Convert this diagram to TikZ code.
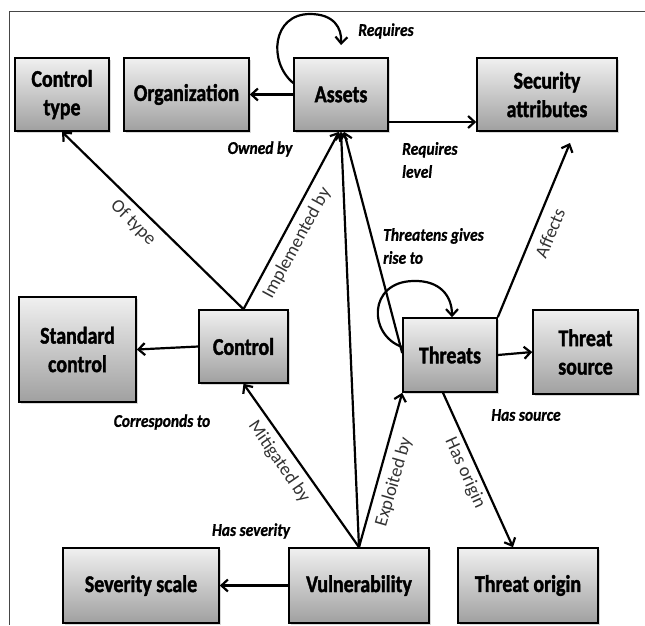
\documentclass[tikz,border=0pt]{standalone}
\usepackage{fontspec}
\newfontfamily\boxfont[FakeStretch=0.83, BoldFeatures={FakeBold=1.5}, BoldItalicFeatures={FakeBold=0.8}]{Carlito}
\newfontfamily\labfont[FakeStretch=0.86, BoldItalicFeatures={FakeBold=0.8}]{Carlito}
\newfontfamily\rfont{Carlito}
\usetikzlibrary{arrows.meta,shadows,calc}
\definecolor{boxtop}{RGB}{240,240,240}
\definecolor{boxbot}{RGB}{160,160,160}
\definecolor{framecol}{RGB}{70,70,70}
\definecolor{rlabcol}{RGB}{50,50,50}
\begin{document}
\begin{tikzpicture}[x=1pt,y=-1pt,
 box/.style={draw=black, line width=1.6pt, top color=boxtop, bottom color=boxbot, inner sep=0pt, align=center,
   font=\boxfont\bfseries\fontsize{24}{28.5}\selectfont,
   drop shadow={shadow xshift=1.5pt,shadow yshift=-1.5pt,opacity=0.3}},
 arr/.style={line width=2.2pt,-{Straight Barb[length=6.5pt,width=12pt]}},
 lab/.style={font=\labfont\bfseries\itshape\fontsize{18}{23}\selectfont, inner sep=0pt},
 rlab/.style={font=\rfont\fontsize{18.5}{21}\selectfont, text=rlabcol, inner sep=0pt}]
\useasboundingbox (0,0) rectangle (645,625);
\draw[framecol, line width=1pt] (645,11) -- (9,11) -- (9,625);
% boxes
\node[box, minimum width=94pt, minimum height=73pt] (ctype) at (62,94.5) {Control\\type};
\node[box, minimum width=125pt, minimum height=73pt] (org) at (186.5,94.5) {Organization};
\node[box, minimum width=94pt, minimum height=73pt] (assets) at (341,94.5) {Assets};
\node[box, minimum width=140pt, minimum height=73pt] (secattr) at (547,94.5) {Security\\attributes};
\node[box, minimum width=117pt, minimum height=105pt] (stdctrl) at (77.5,349.5) {Standard\\control};
\node[box, minimum width=89pt, minimum height=73pt] (control) at (243.5,346.5) {Control};
\node[box, minimum width=94pt, minimum height=74pt] (threats) at (450,355) {Threats};
\node[box, minimum width=105pt, minimum height=84pt] (tsource) at (585.5,352) {Threat\\source};
\node[box, minimum width=156pt, minimum height=75pt] (sevscale) at (141,585.5) {Severity scale};
\node[box, minimum width=140pt, minimum height=75pt] (vuln) at (359,585.5) {Vulnerability};
\node[box, minimum width=140pt, minimum height=75pt] (torigin) at (528,585.5) {Threat origin};
% connectors
\coordinate (reqtip) at (341,45);
\coordinate (afftip) at (570,143);
\draw[arr] (assets.west |- 0,83) .. controls (268,62) and (272,14) .. (310,14) .. controls (334,14) and (342,28) .. (reqtip);
\draw[arr] (assets.west) -- (org.east);
\draw[arr] (assets.east |- 0,122) -- (secattr.west |- 0,122);
\draw[arr] (control.north) -- (ctype.south);
\draw[arr] (control.north) -- ([xshift=-2pt]assets.south);
\draw[arr] (vuln.north) -- (assets.south);
\draw[arr] (threats.west |- 0,353) -- ([xshift=3pt]assets.south);
\draw[arr] (threats.west |- 0,347) .. controls (368,335) and (368,282) .. (413,281) .. controls (440,280) and (452,296) .. ([xshift=2pt]threats.north);
\draw[arr] (threats.north east) -- (afftip);
\draw[arr] (threats.east) -- (tsource.west);
\draw[arr] (control.west) -- (stdctrl.east);
\draw[arr] (vuln.north) -- (control.south);
\draw[arr] (vuln.north) -- (threats.south west);
\draw[arr] ([xshift=-7pt]threats.south) -- ([xshift=-15pt]torigin.north);
\draw[arr] (vuln.west) -- (sevscale.east);
% labels
\node[lab] (lreq) at (386,31) {Requires};
\node[lab] (lown) at (260,149) {Owned by};
\node[lab, align=left, anchor=west] (lreqlev) at (402,160) {Requires\\level};
\node[lab, align=left, anchor=west] (lthr) at (383,246) {Threatens gives\\rise to};
\node[lab] (lcorr) at (162,422) {Corresponds to};
\node[lab] (lsrc) at (526,415) {Has source};
\node[lab] (lsev) at (251,531) {Has severity};
\node[rlab, rotate=-44.7] (loftype) at (133,223) {Of type};
\node[rlab, rotate=61.5] (limpl) at (297,243) {Implemented by};
\node[rlab, rotate=-55.3] (lmit) at (279,462) {Mitigated by};
\node[rlab, rotate=73.9] (lexp) at (394,482) {Exploited by};
\node[rlab, rotate=-65.7] (lorig) at (465,473) {Has origin};
\node[rlab, rotate=67.3] (laff) at (550,233) {Affects};
\end{tikzpicture}
\end{document}
